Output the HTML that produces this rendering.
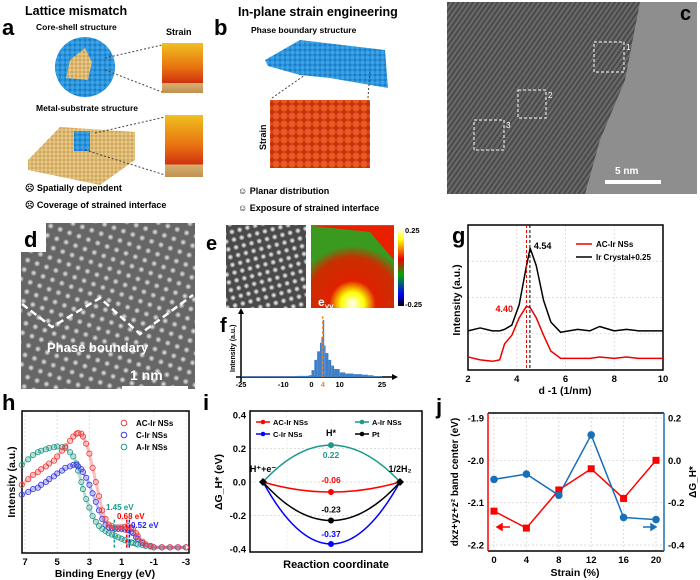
<!DOCTYPE html>
<html><head><meta charset="utf-8">
<style>
body{margin:0;background:#fff}
svg{display:block;font-family:"Liberation Sans",Arial,sans-serif}
.b{font-weight:bold}
</style></head>
<body>
<svg id="fig" width="700" height="580" viewBox="0 0 700 580" xmlns="http://www.w3.org/2000/svg">
<defs>
<radialGradient id="blob"><stop offset="0" stop-color="#eee"/><stop offset="0.6" stop-color="#999"/><stop offset="1" stop-color="#555"/></radialGradient>
<radialGradient id="blob2"><stop offset="0" stop-color="#fff"/><stop offset="0.6" stop-color="#999"/><stop offset="1" stop-color="#333"/></radialGradient>
<pattern id="latd" width="10" height="10" patternUnits="userSpaceOnUse" patternTransform="rotate(20)"><rect width="10" height="10" fill="#666"/><circle cx="5" cy="5" r="3.6" fill="url(#blob)"/></pattern>
<pattern id="late" width="8" height="8" patternUnits="userSpaceOnUse" patternTransform="rotate(-15)"><rect width="8" height="8" fill="#4a4a4a"/><circle cx="4" cy="4" r="3.3" fill="url(#blob2)"/></pattern>
<pattern id="tem" width="4" height="4" patternUnits="userSpaceOnUse" patternTransform="rotate(35)"><rect width="4" height="4" fill="#6a6a6a"/><rect width="2" height="4" fill="#4a4a4a"/></pattern>
<pattern id="blueb" width="5" height="5" patternUnits="userSpaceOnUse"><rect width="5" height="5" fill="#1a7fc8"/><circle cx="2.5" cy="2.5" r="2.2" fill="#3aa2e8"/></pattern>
<pattern id="goldb" width="4" height="4" patternUnits="userSpaceOnUse"><rect width="4" height="4" fill="#c9a15a"/><circle cx="2" cy="2" r="1.7" fill="#e8c883"/></pattern>
<pattern id="redb" width="8" height="8" patternUnits="userSpaceOnUse"><rect width="8" height="8" fill="#c43010"/><circle cx="4" cy="4" r="3.6" fill="#e85a20"/></pattern>
<linearGradient id="strainA" x1="0" y1="0" x2="0" y2="1"><stop offset="0" stop-color="#f0c020"/><stop offset="0.5" stop-color="#e87010"/><stop offset="0.8" stop-color="#d03010"/><stop offset="0.8" stop-color="#d8b070"/><stop offset="1" stop-color="#c09050"/></linearGradient>
<linearGradient id="cbar" x1="0" y1="0" x2="0" y2="1"><stop offset="0" stop-color="#fff"/><stop offset="0.15" stop-color="#ff0"/><stop offset="0.4" stop-color="#e00"/><stop offset="0.6" stop-color="#0a0"/><stop offset="0.85" stop-color="#00f"/><stop offset="1" stop-color="#000"/></linearGradient>
<radialGradient id="emap" cx="0.5" cy="0.95" r="0.7"><stop offset="0" stop-color="#fff"/><stop offset="0.2" stop-color="#ff0"/><stop offset="0.4" stop-color="#e02000"/><stop offset="0.8" stop-color="#c83000"/><stop offset="1" stop-color="#3a9a20"/></radialGradient>
</defs>

<!-- Panel a -->
<g>
<text x="25" y="15" font-size="12.5" class="b">Lattice mismatch</text>
<text x="2" y="35" font-size="22" class="b">a</text>
<text x="36" y="30" font-size="8.5" class="b">Core-shell structure</text>
<text x="166" y="35" font-size="9" class="b">Strain</text>
<circle cx="85" cy="67" r="30" fill="url(#blueb)"/>
<path d="M70 60 L85 48 L92 62 L88 80 L66 78 Z" fill="url(#goldb)"/>
<rect x="162" y="43" width="41" height="50" fill="url(#strainA)"/>
<line x1="105" y1="58" x2="162" y2="45" stroke="#444" stroke-dasharray="2,2"/>
<line x1="105" y1="70" x2="162" y2="92" stroke="#444" stroke-dasharray="2,2"/>
<text x="36" y="111" font-size="8.5" class="b">Metal-substrate structure</text>
<path d="M28 160 L60 127 L135 132 L135 160 L100 185 L28 170 Z" fill="url(#goldb)"/>
<rect x="74" y="131" width="16" height="20" fill="url(#blueb)"/>
<rect x="165" y="115" width="38" height="62" fill="url(#strainA)"/>
<line x1="95" y1="133" x2="165" y2="117" stroke="#444" stroke-dasharray="2,2"/>
<line x1="85" y1="150" x2="165" y2="175" stroke="#444" stroke-dasharray="2,2"/>
<text x="25" y="191" font-size="9" class="b">☹ Spatially dependent</text>
<text x="25" y="208" font-size="9" class="b">☹ Coverage of strained interface</text>
</g>

<!-- Panel b -->
<g>
<text x="238" y="16" font-size="12.5" class="b">In-plane strain engineering</text>
<text x="214" y="35" font-size="22" class="b">b</text>
<text x="251" y="33" font-size="8.5" class="b">Phase boundary structure</text>
<path d="M265 60 L300 40 L385 50 L388 88 L330 78 L300 75 L268 66 Z" fill="url(#blueb)"/>
<rect x="270" y="100" width="100" height="68" fill="url(#redb)"/>
<line x1="272" y1="98" x2="305" y2="75" stroke="#444" stroke-dasharray="2,2"/>
<line x1="368" y1="98" x2="370" y2="70" stroke="#444" stroke-dasharray="2,2"/>
<text x="266" y="150" font-size="9" class="b" transform="rotate(-90 266 150)">Strain</text>
<text x="238" y="194" font-size="9" class="b">☺ Planar distribution</text>
<text x="238" y="211" font-size="9" class="b">☺ Exposure of strained interface</text>
</g>

<!-- Panel c -->
<g>
<rect x="447" y="2" width="250" height="192" fill="url(#tem)"/>
<path d="M640 2 L697 2 L697 194 L585 194 L600 140 L625 80 Z" fill="#8e8e8e"/>
<rect x="594" y="42" width="30" height="30" fill="none" stroke="#fff" stroke-dasharray="3,2"/>
<rect x="518" y="90" width="28" height="28" fill="none" stroke="#fff" stroke-dasharray="3,2"/>
<rect x="474" y="120" width="30" height="30" fill="none" stroke="#fff" stroke-dasharray="3,2"/>
<text x="626" y="50" font-size="8" fill="#fff">1</text><text x="548" y="98" font-size="8" fill="#fff">2</text><text x="506" y="128" font-size="8" fill="#fff">3</text>
<rect x="605" y="180" width="56" height="4" fill="#fff"/>
<text x="615" y="174" font-size="10" class="b" fill="#fff">5 nm</text>
<text x="680" y="20" font-size="20" class="b">c</text>
</g>

<!-- Panel d -->
<g>
<rect x="21" y="223" width="174" height="166" fill="url(#latd)"/>
<rect x="20" y="222" width="26" height="30" fill="#fff"/>
<text x="24" y="247" font-size="22" class="b">d</text>
<polyline points="22,304 52,327 100,298 140,334 193,295" fill="none" stroke="#fff" stroke-width="2.5" stroke-dasharray="7,4"/>
<text x="47" y="352" font-size="13" class="b" fill="#fff">Phase boundary</text>
<rect x="122" y="386" width="66" height="4" fill="#fff"/>
<text x="130" y="380" font-size="14" class="b" fill="#fff">1 nm</text>
</g>

<!-- Panel e -->
<g>
<text x="206" y="250" font-size="20" class="b">e</text>
<rect x="226" y="225" width="80" height="83" fill="url(#late)"/>
<rect x="311" y="225" width="83" height="83" fill="url(#emap)"/>
<path d="M312 226 L394 226 L394 260 L370 232 Z" fill="#e82000"/>
<text x="318" y="306" font-size="12" class="b" fill="#fff">e<tspan font-size="8" dy="3">yy</tspan></text>
<rect x="398" y="228" width="6" height="78" fill="url(#cbar)"/>
<text x="405" y="233" font-size="7.5" class="b">0.25</text>
<text x="405" y="307" font-size="7.5" class="b">-0.25</text>
</g>

<!-- Panel f -->
<g id="pf">
<text x="220" y="332" font-size="20" class="b">f</text>
</g>

<!-- Panel g -->
<g id="pg">
<text x="452" y="243" font-size="22" class="b">g</text>
</g>
<!-- Panel h -->
<g id="ph">
<text x="2" y="410" font-size="22" class="b">h</text>
</g>
<!-- Panel i -->
<g id="pi">
<text x="203" y="410" font-size="22" class="b">i</text>
</g>
<!-- Panel j -->
<g id="pj">
<text x="436" y="414" font-size="22" class="b">j</text>
</g>
</svg>

<script>
// ---- data ----
const fBins = [-25,-20,-15,-10,-5,-1,0,1,2,3,3.5,4,4.5,5,6,7,8,10,12,15,18,20,22,25];
const fCounts = [0.01,0.01,0.01,0.01,0.02,0.03,0.12,0.3,0.45,0.6,0.7,1.0,0.55,0.42,0.3,0.2,0.14,0.08,0.06,0.05,0.04,0.03,0.01,0.01];

const gX = [2,2.5,3,3.3,3.5,3.8,4.1,4.4,4.55,4.8,5.1,5.4,5.8,6.5,7,7.4,8,8.5,9,10];
const gAC = [0.09,0.07,0.06,0.07,0.18,0.24,0.36,0.44,0.43,0.36,0.24,0.13,0.08,0.08,0.08,0.09,0.08,0.09,0.08,0.08];
const gIr = [0.27,0.29,0.27,0.27,0.28,0.31,0.45,0.72,0.84,0.72,0.48,0.33,0.26,0.28,0.27,0.30,0.27,0.28,0.27,0.27];
const gTicks = [2,4,6,8,10];

const hE = [7.2,6.8,6.5,6.2,6,5.7,5.5,5.2,5,4.7,4.5,4.2,4,3.8,3.7,3.5,3.4,3.2,3,2.8,2.6,2.4,2.2,2,1.8,1.6,1.4,1.2,1,0.8,0.6,0.4,0.3,0.1,0,-0.3,-0.5,-0.8,-1,-1.5,-2,-2.5,-3];
const hAC = [0.48,0.52,0.55,0.57,0.59,0.61,0.63,0.65,0.68,0.72,0.75,0.79,0.82,0.84,0.845,0.84,0.82,0.77,0.70,0.60,0.50,0.40,0.30,0.24,0.20,0.19,0.18,0.18,0.18,0.185,0.19,0.18,0.17,0.14,0.12,0.08,0.06,0.05,0.04,0.04,0.04,0.04,0.04];
const hC = [0.41,0.43,0.45,0.46,0.48,0.50,0.52,0.54,0.56,0.58,0.60,0.61,0.62,0.62,0.61,0.59,0.57,0.53,0.48,0.42,0.36,0.30,0.24,0.20,0.18,0.175,0.17,0.17,0.17,0.165,0.16,0.15,0.14,0.11,0.10,0.07,0.06,0.05,0.04,0.04,0.04,0.04,0.04];
const hA = [0.62,0.66,0.69,0.71,0.72,0.73,0.74,0.745,0.75,0.745,0.74,0.71,0.68,0.63,0.58,0.50,0.45,0.38,0.32,0.26,0.22,0.19,0.17,0.155,0.14,0.13,0.12,0.11,0.10,0.09,0.08,0.075,0.07,0.065,0.06,0.055,0.05,0.045,0.04,0.04,0.04,0.04,0.04];
const hTicks = [7,5,3,1,-1,-3];
const hMarks = [1.45,0.68,0.52];
const hMarkLabels = ["1.45 eV","0.68 eV","0.52 eV"];

const iNames = ["AC-Ir NSs","C-Ir NSs","A-Ir NSs","Pt"];
const iValues = [-0.06,-0.37,0.22,-0.23];
const iTicks = [-0.4,-0.2,0.0,0.2,0.4];

const jStrain = [0,4,8,12,16,20];
const jBand = [-2.12,-2.16,-2.07,-2.02,-2.09,-2.00];
const jDG = [-0.09,-0.065,-0.165,0.12,-0.27,-0.28];
const jLeftTicks = [-1.9,-2.0,-2.1,-2.2];
const jRightTicks = [0.2,0.0,-0.2,-0.4];
const jXTicks = [0,4,8,12,16,20];

// ---- helpers ----
const NS = "http://www.w3.org/2000/svg";
function mk(parent, tag, attrs, text){
  const e = document.createElementNS(NS, tag);
  for (const k in attrs) e.setAttribute(k, attrs[k]);
  if (text !== undefined) e.textContent = text;
  parent.appendChild(e);
  return e;
}
function lin(d0,d1,r0,r1){ return v => r0 + (v-d0)*(r1-r0)/(d1-d0); }

// ---- panel f ----
(function(){
  const g = document.getElementById('pf');
  const x = lin(-25,25,241,382), y = lin(0,1,377,320);
  const ax = mk(g,'path',{d:'M236 377 L392 377 M241 382 L241 312',stroke:'#000','stroke-width':1.5,fill:'none'});
   
  mk(g,'path',{d:'M392 374 L398 377 L392 380 Z M238 314 L241 308 L244 314 Z',fill:'#000'});
  for (let i=0;i<fBins.length-1;i++){
    const r = mk(g,'rect',{x:x(fBins[i]),y:y(fCounts[i]),width:Math.max(1,x(fBins[i+1])-x(fBins[i])),height:377-y(fCounts[i]),fill:'#3f7fc8'});
    
    
  }
  mk(g,'line',{x1:x(4),x2:x(4),y1:316,y2:377,stroke:'#f08020','stroke-dasharray':'3,2','stroke-width':1.2});
  [-25,-10,0,10,25].forEach(t=>{ const tt=mk(g,'text',{x:x(t),y:387,'font-size':7.5,'font-weight':'bold','text-anchor':'middle'},String(t));  });
  mk(g,'text',{x:x(4),y:387,'font-size':7.5,'font-weight':'bold','text-anchor':'middle',fill:'#f08020'},'4');
  mk(g,'text',{x:235,y:372,'font-size':7,'font-weight':'bold',transform:'rotate(-90 235 372)'},'Intensity (a.u.)');
})();

// ---- panel g ----
(function(){
  const g = document.getElementById('pg');
  const L=468,R=663,T=225,B=370;
  const x = lin(2,10,L,R), y = lin(0,1,B,T);
  [4,6,8].forEach(t=>mk(g,'line',{x1:x(t),x2:x(t),y1:T,y2:B,stroke:'#ddd','stroke-dasharray':'2,2'}));
  [0.25,0.5,0.75].forEach(t=>mk(g,'line',{x1:L,x2:R,y1:y(t),y2:y(t),stroke:'#ddd','stroke-dasharray':'2,2'}));
  const f = mk(g,'rect',{x:L,y:T,width:R-L,height:B-T,fill:'none',stroke:'#000','stroke-width':1.5});
   
  const p1 = mk(g,'polyline',{points:gIr.map((v,i)=>x(gX[i])+','+y(v)).join(' '),fill:'none',stroke:'#000','stroke-width':1.5,'stroke-linejoin':'round'});
   
  const p2 = mk(g,'polyline',{points:gAC.map((v,i)=>x(gX[i])+','+y(v)).join(' '),fill:'none',stroke:'#e00','stroke-width':1.5,'stroke-linejoin':'round'});
   
  mk(g,'line',{x1:x(4.40),x2:x(4.40),y1:T,y2:B,stroke:'#e00','stroke-dasharray':'3,2'});
  mk(g,'line',{x1:x(4.54),x2:x(4.54),y1:T,y2:B,stroke:'#000','stroke-dasharray':'3,2'});
  mk(g,'text',{x:x(4.54)+4,y:249,'font-size':9,'font-weight':'bold'},'4.54');
  mk(g,'text',{x:x(4.40)-31,y:312,'font-size':9,'font-weight':'bold',fill:'#e00'},'4.40');
  gTicks.forEach(t=>{ const tt=mk(g,'text',{x:x(t),y:382,'font-size':9.5,'font-weight':'bold','text-anchor':'middle'},String(t));  });
  mk(g,'text',{x:565,y:394,'font-size':10.5,'font-weight':'bold','text-anchor':'middle'},'d -1 (1/nm)');
  mk(g,'text',{x:460,y:300,'font-size':10.5,'font-weight':'bold','text-anchor':'middle',transform:'rotate(-90 460 300)'},'Intensity (a.u.)');
  mk(g,'line',{x1:576,x2:592,y1:244,y2:244,stroke:'#e00','stroke-width':1.5});
  mk(g,'text',{x:596,y:247,'font-size':8,'font-weight':'bold'},'AC-Ir NSs');
  mk(g,'line',{x1:576,x2:592,y1:257,y2:257,stroke:'#000','stroke-width':1.5});
  mk(g,'text',{x:596,y:260,'font-size':8,'font-weight':'bold'},'Ir Crystal+0.25');
})();

// ---- panel h ----
(function(){
  const g = document.getElementById('ph');
  const L=22,R=189,T=411,B=553;
  const x = lin(7,-3,25,186), y = lin(0,1,B,T);
  hTicks.forEach(t=>mk(g,'line',{x1:x(t),x2:x(t),y1:T,y2:B,stroke:'#e4e4e4','stroke-dasharray':'2,2'}));
  const f = mk(g,'rect',{x:L,y:T,width:R-L,height:B-T,fill:'none',stroke:'#000','stroke-width':1.5});
   
  const series = [[hA,'#2a9a8a','a-ir'],[hC,'#4040e0','c-ir'],[hAC,'#f04040','ac-ir']];
  series.forEach(([arr,c,n])=>{
    arr.forEach((v,i)=>{
      const ci = mk(g,'circle',{cx:x(hE[i]),cy:y(v),r:2.6,fill:'none',stroke:c,'stroke-width':0.9});
      
      
    });
    mk(g,'polyline',{points:arr.map((v,i)=>x(hE[i])+','+y(v)).join(' '),fill:'none',stroke:c,'stroke-width':3,opacity:0.35});
  });
  const mc = ['#1a9a8a','#f00','#22f'];
  hMarks.forEach((m,i)=>mk(g,'line',{x1:x(m),x2:x(m),y1:y(0.2)-5,y2:B-5,stroke:mc[i],'stroke-dasharray':'3,2','stroke-width':1.5}));
  mk(g,'text',{x:106,y:510,'font-size':8,'font-weight':'bold',fill:mc[0]},hMarkLabels[0]);
  mk(g,'text',{x:117,y:519,'font-size':8,'font-weight':'bold',fill:mc[1]},hMarkLabels[1]);
  mk(g,'text',{x:131,y:528,'font-size':8,'font-weight':'bold',fill:mc[2]},hMarkLabels[2]);
  hTicks.forEach(t=>{ const tt=mk(g,'text',{x:x(t),y:565,'font-size':9.5,'font-weight':'bold','text-anchor':'middle'},String(t));  });
  mk(g,'text',{x:105,y:577,'font-size':10.5,'font-weight':'bold','text-anchor':'middle'},'Binding Energy (eV)');
  mk(g,'text',{x:15,y:482,'font-size':10.5,'font-weight':'bold','text-anchor':'middle',transform:'rotate(-90 15 482)'},'Intensity (a.u.)');
  [['AC-Ir NSs','#f04040'],['C-Ir NSs','#4040e0'],['A-Ir NSs','#2a9a8a']].forEach((e,i)=>{
    mk(g,'circle',{cx:124,cy:423+i*12,r:2.8,fill:'none',stroke:e[1]});
    mk(g,'text',{x:136,y:426+i*12,'font-size':8,'font-weight':'bold'},e[0]);
  });
})();

// ---- panel i ----
(function(){
  const g = document.getElementById('pi');
  const L=250,R=422,T=411,B=552;
  const y = lin(0.4,-0.4,415,549);
  const x0=263,xm=331,x1=400;
  [-0.2,0,0.2].forEach(t=>mk(g,'line',{x1:L,x2:R,y1:y(t),y2:y(t),stroke:'#ddd','stroke-dasharray':'2,2'}));
  [x0+0.5*(xm-x0)-10,xm,x1-10].forEach(xx=>mk(g,'line',{x1:xx,x2:xx,y1:T,y2:B,stroke:'#eee','stroke-dasharray':'2,2'}));
  const f = mk(g,'rect',{x:L,y:T,width:R-L,height:B-T,fill:'none',stroke:'#000','stroke-width':1.5});
   
  const cols = ['#f00','#00f','#1a9a8a','#000'];
  const lblDy = [-9,-7,13,-8];
  iValues.forEach((v,i)=>{
    const p = mk(g,'path',{d:`M${x0} ${y(0)} Q${xm} ${2*y(v)-y(0)} ${x1} ${y(0)}`,fill:'none',stroke:cols[i],'stroke-width':1.5});
    
    
    const pt = mk(g,'circle',{cx:xm,cy:y(v),r:3,fill:cols[i]});
    
    
    mk(g,'text',{x:xm,y:y(v)+lblDy[i],'font-size':8.5,'font-weight':'bold','text-anchor':'middle',fill:cols[i]},v.toFixed(2));
  });
  mk(g,'path',{d:`M${x0-4} ${y(0)} L${x0} ${y(0)-4} L${x0+4} ${y(0)} L${x0} ${y(0)+4} Z M${x1-4} ${y(0)} L${x1} ${y(0)-4} L${x1+4} ${y(0)} L${x1} ${y(0)+4} Z`,fill:'#000'});
  mk(g,'text',{x:263,y:y(0)-10,'font-size':9,'font-weight':'bold','text-anchor':'middle'},'H⁺+e⁻');
  mk(g,'text',{x:331,y:y(0.22)-9,'font-size':9,'font-weight':'bold','text-anchor':'middle'},'H*');
  mk(g,'text',{x:400,y:y(0)-10,'font-size':9,'font-weight':'bold','text-anchor':'middle'},'1/2H₂');
  iTicks.forEach(t=>{ const tt=mk(g,'text',{x:246,y:y(t)+3.5,'font-size':9.5,'font-weight':'bold','text-anchor':'end'},t.toFixed(1));  });
  mk(g,'text',{x:336,y:568,'font-size':11,'font-weight':'bold','text-anchor':'middle'},'Reaction coordinate');
  mk(g,'text',{x:222,y:482,'font-size':10.5,'font-weight':'bold','text-anchor':'middle',transform:'rotate(-90 222 482)'},'ΔG_H* (eV)');
  [[0,'#f00',256,422],[1,'#00f',256,434],[2,'#1a9a8a',355,422],[3,'#000',355,434]].forEach(([i,c,lx,ly])=>{
    mk(g,'line',{x1:lx,x2:lx+14,y1:ly,y2:ly,stroke:c,'stroke-width':1.5});
    mk(g,'circle',{cx:lx+7,cy:ly,r:2.3,fill:c});
    mk(g,'text',{x:lx+17,y:ly+3,'font-size':7.5,'font-weight':'bold'},iNames[i]);
  });
})();

// ---- panel j ----
(function(){
  const g = document.getElementById('pj');
  const L=488,R=664,T=413,B=551;
  const x = lin(0,20,494,656), yl = lin(-1.9,-2.2,418,545), yr = lin(0.2,-0.4,418,545);
  jXTicks.forEach(t=>mk(g,'line',{x1:x(t),x2:x(t),y1:T,y2:B,stroke:'#ddd','stroke-dasharray':'2,2'}));
  jLeftTicks.forEach(t=>mk(g,'line',{x1:L,x2:R,y1:yl(t),y2:yl(t),stroke:'#ddd','stroke-dasharray':'2,2'}));
  mk(g,'line',{x1:L,x2:R,y1:B,y2:B,stroke:'#000','stroke-width':1.5});
  mk(g,'line',{x1:L,x2:R,y1:T,y2:T,stroke:'#000','stroke-width':1.5});
  const la = mk(g,'line',{x1:L,x2:L,y1:T,y2:B,stroke:'#f00','stroke-width':1.5});
   
  const ra = mk(g,'line',{x1:R,x2:R,y1:T,y2:B,stroke:'#1a70b8','stroke-width':1.5});
   
  mk(g,'polyline',{points:jBand.map((v,i)=>x(jStrain[i])+','+yl(v)).join(' '),fill:'none',stroke:'#f00','stroke-width':1.5});
  mk(g,'polyline',{points:jDG.map((v,i)=>x(jStrain[i])+','+yr(v)).join(' '),fill:'none',stroke:'#1a70b8','stroke-width':1.5});
  jBand.forEach((v,i)=>{
    const r = mk(g,'rect',{x:x(jStrain[i])-3.5,y:yl(v)-3.5,width:7,height:7,fill:'#f00'});
    
    
  });
  jDG.forEach((v,i)=>{
    const c = mk(g,'circle',{cx:x(jStrain[i]),cy:yr(v),r:3.8,fill:'#1a70b8'});
    
    
  });
  mk(g,'path',{d:'M497 527 L510 527 M497 527 L502 524 L502 530 Z',stroke:'#f00',fill:'#f00','stroke-width':1.5});
  mk(g,'path',{d:'M643 527 L656 527 M656 527 L651 524 L651 530 Z',stroke:'#1a70b8',fill:'#1a70b8','stroke-width':1.5});
  jLeftTicks.forEach(t=>{ const tt=mk(g,'text',{x:484,y:yl(t)+3.5,'font-size':9.5,'font-weight':'bold','text-anchor':'end'},t.toFixed(1));  });
  jRightTicks.forEach(t=>{ const tt=mk(g,'text',{x:668,y:yr(t)+3.5,'font-size':9.5,'font-weight':'bold'},t.toFixed(1));  });
  jXTicks.forEach(t=>{ const tt=mk(g,'text',{x:x(t),y:563,'font-size':9.5,'font-weight':'bold','text-anchor':'middle'},String(t));  });
  mk(g,'text',{x:575,y:576,'font-size':10.5,'font-weight':'bold','text-anchor':'middle'},'Strain (%)');
  mk(g,'text',{x:458,y:482,'font-size':10,'font-weight':'bold','text-anchor':'middle',transform:'rotate(-90 458 482)'},'dxz+yz+z² band center (eV)');
  mk(g,'text',{x:696,y:482,'font-size':10,'font-weight':'bold','text-anchor':'middle',transform:'rotate(-90 696 482)'},'ΔG_H*');
})();
</script>
</body></html>
